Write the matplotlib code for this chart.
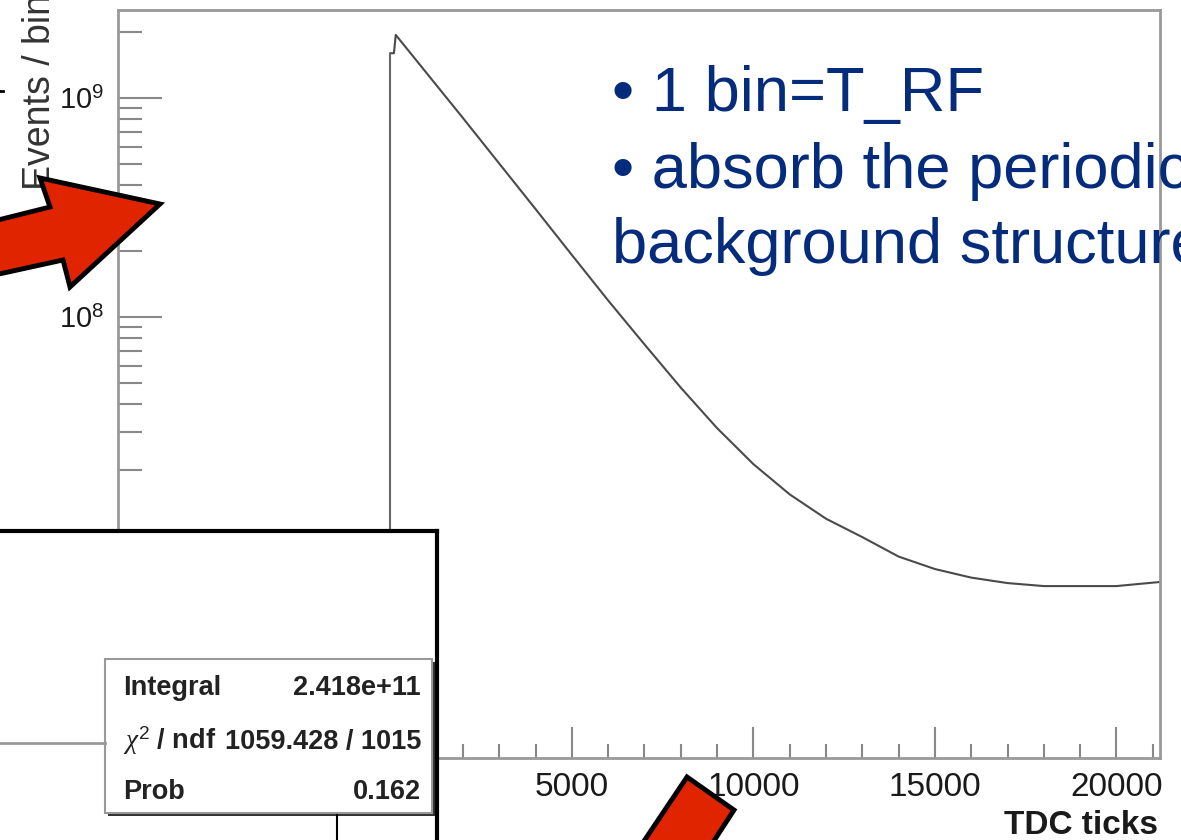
import numpy as np
import matplotlib.pyplot as plt
from matplotlib.patches import Polygon, Rectangle
from matplotlib.ticker import LogLocator, MultipleLocator, NullFormatter

plt.rcParams['font.family'] = ['Liberation Sans', 'DejaVu Sans']
plt.rcParams['mathtext.fontset'] = 'custom'
plt.rcParams['mathtext.rm'] = 'Liberation Sans'
plt.rcParams['mathtext.it'] = 'Liberation Serif:italic'

# TDC ticks vs events per bin
tdc = [0, 100, 150, 2000, 4000, 5000, 6000, 7000, 8000, 9000, 10000, 11000,
       12000, 13000, 14000, 15000, 16000, 17000, 18000, 19000, 20000, 20600, 21200]
events = [1.60e9, 1.60e9, 1.94e9, 8.10e8, 3.11e8, 1.92e8, 1.19e8, 7.50e7,
          4.76e7, 3.11e7, 2.13e7, 1.55e7, 1.20e7, 9.89e6, 8.06e6, 7.07e6,
          6.46e6, 6.10e6, 5.91e6, 5.91e6, 5.91e6, 6.04e6, 6.17e6]

y_ticks = [1e7, 1e8, 1e9]
y_ticklabels = ['', r'$10^{8}$', r'$10^{9}$']
x_ticks = [5000, 10000, 15000, 20000]

stats_names = ['Integral', r'$\chi^{2}$ / ndf', 'Prob']
stats_values = ['2.418e+11', '1059.428 / 1015', '0.162']

bullets = ['\u2022 1 bin=T_RF', '\u2022 absorb the periodic', 'background structure']

W, H = 1181, 840
fig = plt.figure(figsize=(W / 100, H / 100), dpi=100)
fig.patch.set_facecolor('white')

ax = fig.add_axes([118 / W, 1 - 758 / H, (1160 - 118) / W, (758 - 10) / H])
ymin, ymax = 9.7e5, 2.52e9
ax.set_yscale('log')
ax.set_xlim(-7500, 21200)
ax.set_ylim(ymin, ymax)

ax.plot(tdc, events, color='#4a4a4a', lw=1.5)
ax.vlines(tdc[0], ymin, events[0], color='#666666', lw=1.5)

for s in ax.spines.values():
    s.set_color('#999999')
    s.set_linewidth(2)

ax.set_yticks(y_ticks, labels=y_ticklabels)
ax.yaxis.set_minor_locator(LogLocator(base=10, subs=np.arange(2, 10)))
ax.yaxis.set_minor_formatter(NullFormatter())
ax.set_xticks(x_ticks)
ax.xaxis.set_minor_locator(MultipleLocator(1000))
ax.tick_params(axis='both', which='both', direction='in', color='#888888',
               labelcolor='#1a1a1a', top=False, right=False)
ax.tick_params(axis='y', which='major', length=32, width=1.5, pad=10, labelsize=21)
ax.tick_params(axis='y', which='minor', length=17, width=1.5)
ax.tick_params(axis='x', which='major', length=22, width=1.5, pad=10, labelsize=24)
ax.tick_params(axis='x', which='minor', length=10, width=1.5)

fig.text(1158 / W, 1 - 834 / H, 'TDC ticks', ha='right', va='baseline',
         fontsize=24, fontweight='bold', color='#1a1a1a')
fig.text(58 / W, 1 - 190 / H, 'Events / bin', rotation=90, ha='right',
         va='bottom', fontsize=27, color='#333333')

# slide bullet text
ys = [111, 188, 263]
xs = [612, 612, 612]
for t, x, y in zip(bullets, xs, ys):
    fig.text(x / W, 1 - y / H, t, ha='left', va='baseline', fontsize=45.5,
             color='#052c7c')

# lower-left overlay panel (other plot)
pan = fig.add_axes([0, 0, 437 / W, (840 - 531) / H], zorder=5)
pan.set_xlim(0, 437)
pan.set_ylim(840, 531)
pan.set_xticks([])
pan.set_yticks([])
pan.patch.set_facecolor('white')
for k in ['left', 'bottom']:
    pan.spines[k].set_visible(False)
for k in ['top', 'right']:
    pan.spines[k].set_color('black')
    pan.spines[k].set_linewidth(3)
pan.plot([0, 105], [743, 743], color='#999999', lw=2)
pan.plot([337, 337], [815, 845], color='black', lw=1.5, clip_on=False)
pan.add_patch(Rectangle((108, 662), 327, 154, facecolor='#333333', edgecolor='none'))
pan.add_patch(Rectangle((105, 659), 327, 154, facecolor='white',
                        edgecolor='#999999', lw=1.5))
row_y = [695, 749, 799]
for name, val, y in zip(stats_names, stats_values, row_y):
    pan.text(123, y, name, ha='left', va='baseline', fontsize=19.5,
             fontweight='bold', color='#222222')
    pan.text(421, y, val, ha='right', va='baseline', fontsize=19.5,
             fontweight='bold', color='#222222')

# red slide arrows (in pixel space)
over = fig.add_axes([0, 0, 1, 1], zorder=10)
over.set_xlim(0, W)
over.set_ylim(H, 0)
over.axis('off')
over.patch.set_alpha(0)
arrow1 = [(-10, 222), (50, 207), (40, 178), (160, 204), (70, 287), (63, 260), (-10, 276)]
arrow2 = [(638, 850), (687, 777), (734, 810), (708, 850)]
for pts in [arrow1, arrow2]:
    over.add_patch(Polygon(pts, closed=True, facecolor='#e02400',
                           edgecolor='black', lw=3.5, joinstyle='miter'))
over.plot([0, 3], [91, 91], color='black', lw=2)

fig.savefig('out.png', dpi=100)
